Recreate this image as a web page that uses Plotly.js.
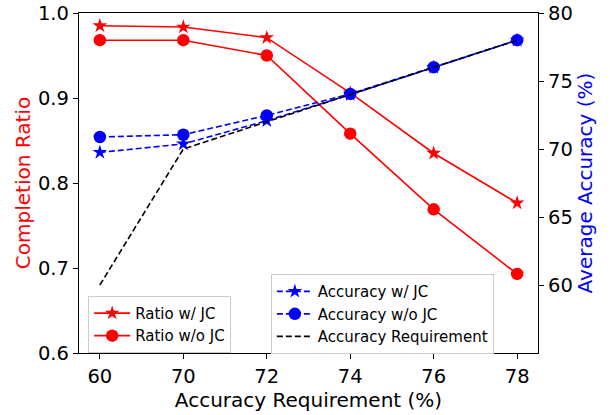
<!DOCTYPE html>
<html>
<head>
<meta charset="utf-8">
<script src="https://cdn.plot.ly/plotly-3.0.1.min.js"></script>
<style>html,body{margin:0;padding:0;background:#fff}#chart{width:610px;height:415px}</style>
</head>
<body>
<div id="chart"></div>
<script>
const categories = ["60", "70", "72", "74", "76", "78"];
const ratioWithJC = [0.985, 0.9835, 0.971, 0.906, 0.835, 0.7765];
const ratioWithoutJC = [0.968, 0.968, 0.950, 0.858, 0.769, 0.693];
const accWithJC = [69.75, 70.37, 72.08, 74.0, 76.0, 78.0];
const accWithoutJC = [70.88, 71.05, 72.47, 74.05, 76.02, 78.0];
const accRequirement = [60, 70, 72, 74, 76, 78];
const leftTicks = [0.6, 0.7, 0.8, 0.9, 1.0];
const rightTicks = [60, 65, 70, 75, 80];

const FONT = "DejaVu Sans, sans-serif";
const traces = [
  {x: categories, y: ratioWithJC, name: "Ratio w/ JC", type: "scatter", mode: "lines+markers",
   line: {color: "#ff0000", width: 1.6}, marker: {symbol: "star", size: 11, color: "#ff0000"},
   yaxis: "y", legend: "legend", legendgroup: "a"},
  {x: categories, y: ratioWithoutJC, name: "Ratio w/o JC", type: "scatter", mode: "lines+markers",
   line: {color: "#ff0000", width: 1.6}, marker: {symbol: "circle", size: 12.5, color: "#ff0000"},
   yaxis: "y", legend: "legend", legendgroup: "b"},
  {x: categories, y: accWithJC, name: "Accuracy w/ JC", type: "scatter", mode: "lines+markers",
   line: {color: "#0000ff", width: 1.6, dash: "6px,3px"}, marker: {symbol: "star", size: 11, color: "#0000ff"},
   yaxis: "y2", legend: "legend2", legendgroup: "c"},
  {x: categories, y: accWithoutJC, name: "Accuracy w/o JC", type: "scatter", mode: "lines+markers",
   line: {color: "#0000ff", width: 1.6, dash: "6px,3px"}, marker: {symbol: "circle", size: 12.5, color: "#0000ff"},
   yaxis: "y2", legend: "legend2", legendgroup: "d"},
  {x: categories, y: accRequirement, name: "Accuracy Requirement", type: "scatter", mode: "lines",
   line: {color: "#000000", width: 1.6, dash: "6px,3px"},
   yaxis: "y2", legend: "legend2", legendgroup: "e"}
];

const legendStyle = {
  bgcolor: "rgba(255,255,255,0.8)", bordercolor: "#cccccc", borderwidth: 1,
  font: {family: FONT, size: 15, color: "#000"}, xanchor: "left", yanchor: "top",
  traceorder: "grouped", tracegroupgap: 0, itemwidth: 36
};

const layout = {
  width: 610, height: 415,
  margin: {l: 79, r: 72, t: 13, b: 62},
  paper_bgcolor: "#fff", plot_bgcolor: "#fff",
  font: {family: FONT, color: "#000"},
  showlegend: true,
  xaxis: {
    type: "category", categoryorder: "array", categoryarray: categories,
    range: [-0.25, 5.25], showgrid: false, zeroline: false,
    showline: true, linecolor: "#000", linewidth: 1.2, mirror: true,
    ticks: "outside", ticklen: 5, tickcolor: "#000",
    tickfont: {family: FONT, size: 19.5},
    title: {text: "Accuracy Requirement (%)", font: {family: FONT, size: 20}, standoff: 1}
  },
  yaxis: {
    range: [0.6, 1.0], tickvals: leftTicks, ticktext: leftTicks.map(v => v.toFixed(1)),
    showgrid: false, zeroline: false,
    showline: true, linecolor: "#000", linewidth: 1.2,
    ticks: "outside", ticklen: 5, tickcolor: "#000",
    tickfont: {family: FONT, size: 19.5},
    title: {text: "Completion Ratio", font: {family: FONT, size: 20, color: "#ff0000"}, standoff: 1}
  },
  yaxis2: {
    range: [55, 80], tickvals: rightTicks, overlaying: "y", side: "right",
    showgrid: false, zeroline: false,
    showline: true, linecolor: "#000", linewidth: 1.2,
    ticks: "outside", ticklen: 5, tickcolor: "#000",
    tickfont: {family: FONT, size: 19.5},
    title: {text: "Average Accuracy (%)", font: {family: FONT, size: 20, color: "#0000ff"}, standoff: 3}
  },
  legend: Object.assign({x: 0.02, y: 0.168}, legendStyle),
  legend2: Object.assign({x: 0.418, y: 0.232}, legendStyle)
};

Plotly.newPlot("chart", traces, layout, {displayModeBar: false, staticPlot: true});
</script>
</body>
</html>
